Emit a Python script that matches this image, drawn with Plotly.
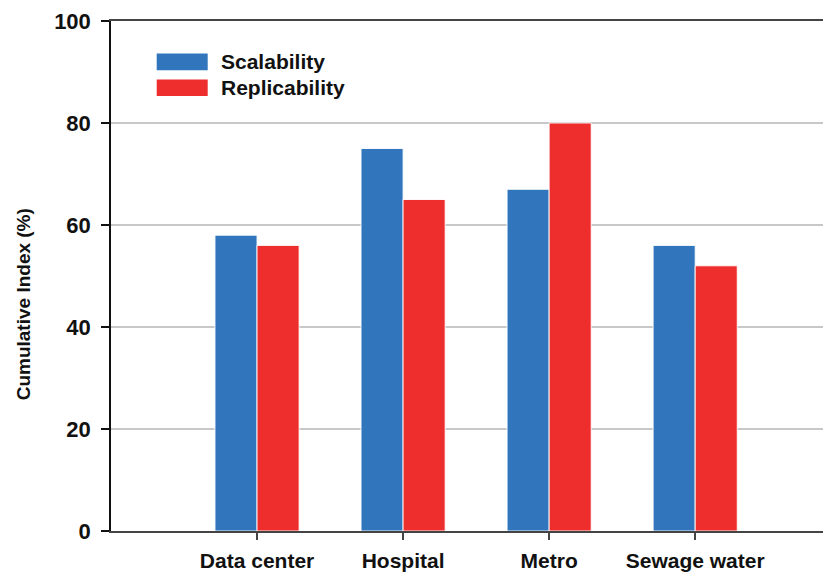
import plotly.graph_objects as go

categories = ["Data center", "Hospital", "Metro", "Sewage water"]
scalability = [58, 75, 67, 56]
replicability = [56, 65, 80, 52]
series_names = ["Scalability", "Replicability"]
colors = ["#3175BC", "#EE2D2D"]
y_ticks = [0, 20, 40, 60, 80, 100]

FONT = "Arial, 'Liberation Sans', sans-serif"

# page body has an 8px default margin; compensate
OFF = 8
FIG_W, FIG_H = 831 - OFF, 575 - OFF

fig = go.Figure()
for name, vals, col in zip(series_names, [scalability, replicability], colors):
    fig.add_trace(go.Bar(
        x=categories, y=vals, name=name,
        marker=dict(color=col, line=dict(color="rgba(255,255,255,0.9)", width=1)),
        showlegend=False,
    ))

# target plot area in screenshot pixels
L, T, W, H = 111, 20.7, 720, 510
def px_x(p):
    return (p - L) / W
def px_y(p):
    return (T + H - p) / H

shapes = []
annotations = []
legend_rows = [(53.3, 70.0), (79.3, 95.7)]
for (y0, y1), name, col in zip(legend_rows, series_names, colors):
    shapes.append(dict(type="rect", xref="paper", yref="paper",
                       x0=px_x(156.7), x1=px_x(207.7), y0=px_y(y1), y1=px_y(y0),
                       fillcolor=col, line=dict(width=0)))
    annotations.append(dict(xref="paper", yref="paper", x=px_x(219), y=px_y((y0 + y1) / 2),
                            text=f"<b>{name}</b>", showarrow=False, xanchor="left", yanchor="middle",
                            font=dict(family=FONT, size=21, color="#111"),))

annotations.append(dict(xref="paper", yref="paper", x=px_x(23), y=px_y(304),
                        text="<b>Cumulative Index (%)</b>", textangle=-90, showarrow=False,
                        xanchor="center", yanchor="middle",
                        font=dict(family=FONT, size=19, color="#111")))

fig.update_layout(
    width=FIG_W, height=FIG_H,
    margin=dict(l=L - OFF, r=FIG_W - (L - OFF) - W, t=T - OFF, b=FIG_H - (T - OFF) - H,
                pad=0, autoexpand=False),
    plot_bgcolor="white", paper_bgcolor="white",
    barmode="group", bargap=0.424, bargroupgap=0,
    font=dict(family=FONT, size=20, color="#111"),
    shapes=shapes, annotations=annotations,
)
fig.update_xaxes(
    range=[-1, 3.93], showgrid=False, automargin=False,
    showline=True, linecolor="#444", linewidth=2, mirror=True,
    ticks="outside", ticklen=7, tickwidth=1.5, tickcolor="#444",
    tickfont=dict(family=FONT, size=21, color="#111"),
    tickprefix="<b>", ticksuffix="</b>",
    ticklabelstandoff=3,
)
fig.update_yaxes(
    range=[0, 100], tickvals=y_ticks, ticktext=[f"<b>{v}</b>" for v in y_ticks],
    showgrid=True, gridcolor="#C8C8C8", gridwidth=1.5, automargin=False,
    showline=True, linecolor="#111", linewidth=1.5,
    ticks="outside", ticklen=8, tickwidth=1.5, tickcolor="#111",
    tickfont=dict(family=FONT, size=22, color="#111"),
    ticklabelstandoff=6,
    zeroline=False,
)

fig.write_html("out.html")
